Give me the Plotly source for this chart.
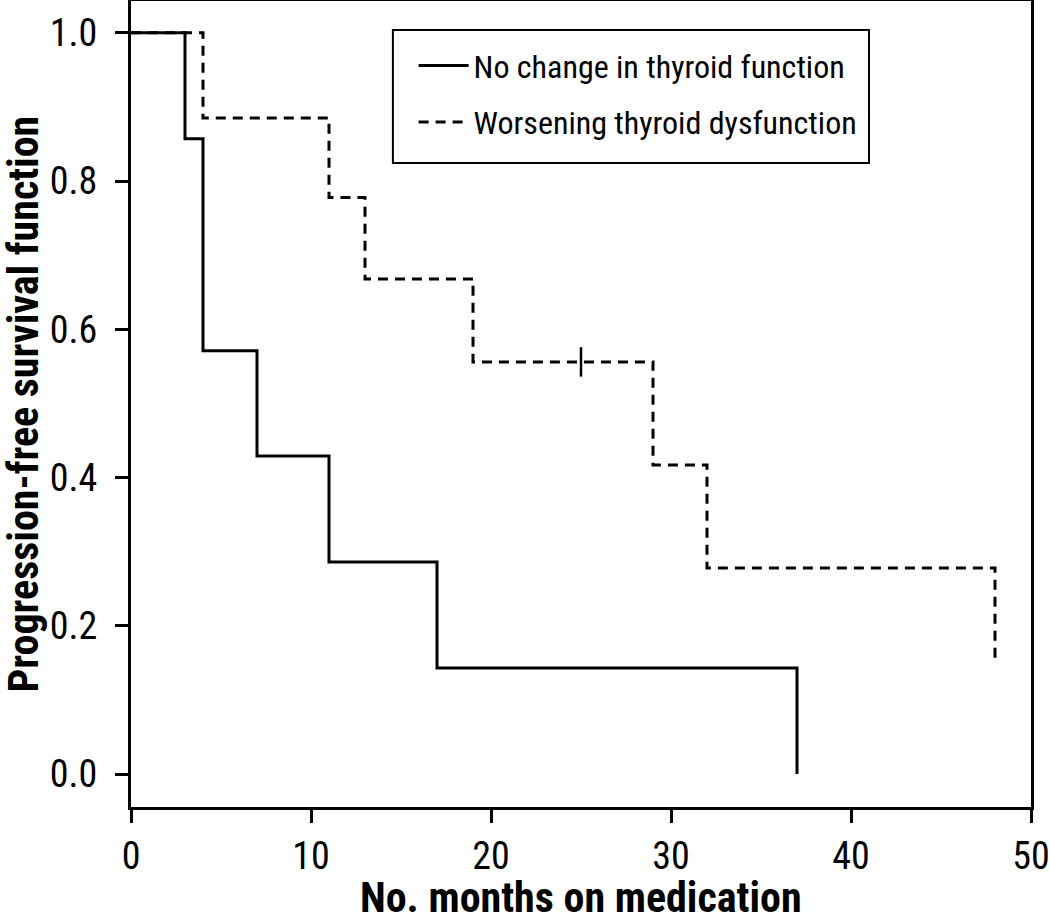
import plotly.graph_objects as go

# Kaplan-Meier step data
no_change_months = [0, 3, 4, 7, 11, 17, 37, 37]
no_change_surv = [1.0, 0.857, 0.571, 0.429, 0.286, 0.143, 0.143, 0.0]

worsening_months = [0, 4, 11, 13, 19, 29, 32, 48, 48]
worsening_surv = [1.0, 0.885, 0.778, 0.668, 0.556, 0.417, 0.278, 0.278, 0.15]

# censored observation
censor_months = [25]
censor_surv = [0.556]

x_ticks = [0, 10, 20, 30, 40, 50]
y_ticks = [0.0, 0.2, 0.4, 0.6, 0.8, 1.0]

FONT = 'Liberation Sans Narrow, Arial Narrow, Roboto Condensed, sans-serif'

p1 = go.Scatter(
    x=no_change_months, y=no_change_surv,
    mode='lines', line=dict(color='black', width=3, shape='hv'),
    name='No change in thyroid function', legendgroup='a'
)

p2 = go.Scatter(
    x=worsening_months, y=worsening_surv,
    mode='lines', line=dict(color='black', width=3, shape='hv', dash='10px,7px'),
    name='Worsening thyroid dysfunction', legendgroup='b'
)

p3 = go.Scatter(
    x=censor_months, y=censor_surv,
    mode='markers', showlegend=False,
    marker=dict(symbol='line-ns', size=21, line=dict(color='black', width=2.5))
)

axis_common = dict(
    showline=True, linecolor='black', linewidth=3, mirror=True,
    ticks='outside', ticklen=13, tickwidth=3, tickcolor='black',
    showgrid=False, zeroline=False, automargin=False,
    tickfont=dict(family=FONT, size=38, color='black'),
)

title_font = dict(family=FONT, size=42, color='black')

layout = dict(
    width=1050, height=917,
    plot_bgcolor='white', paper_bgcolor='white',
    margin=dict(l=131, r=19, t=1, b=110),
    font=dict(family=FONT, color='black'),
    xaxis=dict(axis_common, range=[0, 50], tickvals=x_ticks),
    yaxis=dict(axis_common, range=[-0.0445, 1.043], tickvals=y_ticks,
               tickformat='.1f', ticklabelstandoff=10),
    # axis titles as annotations so they can sit right at the page edges
    annotations=[
        dict(text='<b>No. months on medication</b>', showarrow=False,
             xref='paper', yref='paper', x=0.5, y=0,
             xanchor='center', yanchor='bottom', yshift=-117, font=title_font),
        dict(text='<b>Progression-free survival function</b>', showarrow=False,
             textangle=-90, xref='paper', yref='paper', x=0, y=0.5,
             xanchor='left', yanchor='middle', xshift=-135, font=title_font),
    ],
    # legend frame drawn separately so it can be larger than plotly's own box
    shapes=[dict(type='rect', xref='paper', yref='paper',
                 x0=0.291, x1=0.82, y0=0.799, y1=0.964,
                 line=dict(color='black', width=2), fillcolor='white', layer='below')],
    legend=dict(
        x=0.314, y=0.954, xanchor='left', yanchor='top',
        borderwidth=0, bgcolor='rgba(0,0,0,0)',
        font=dict(family=FONT, size=32, color='black'),
        tracegroupgap=12, itemwidth=50,
    ),
    showlegend=True,
)

fig = go.Figure(data=[p1, p2, p3], layout=layout)
fig.write_html('out.html', config={'displayModeBar': False},
               post_script="document.body.style.margin='0';")
